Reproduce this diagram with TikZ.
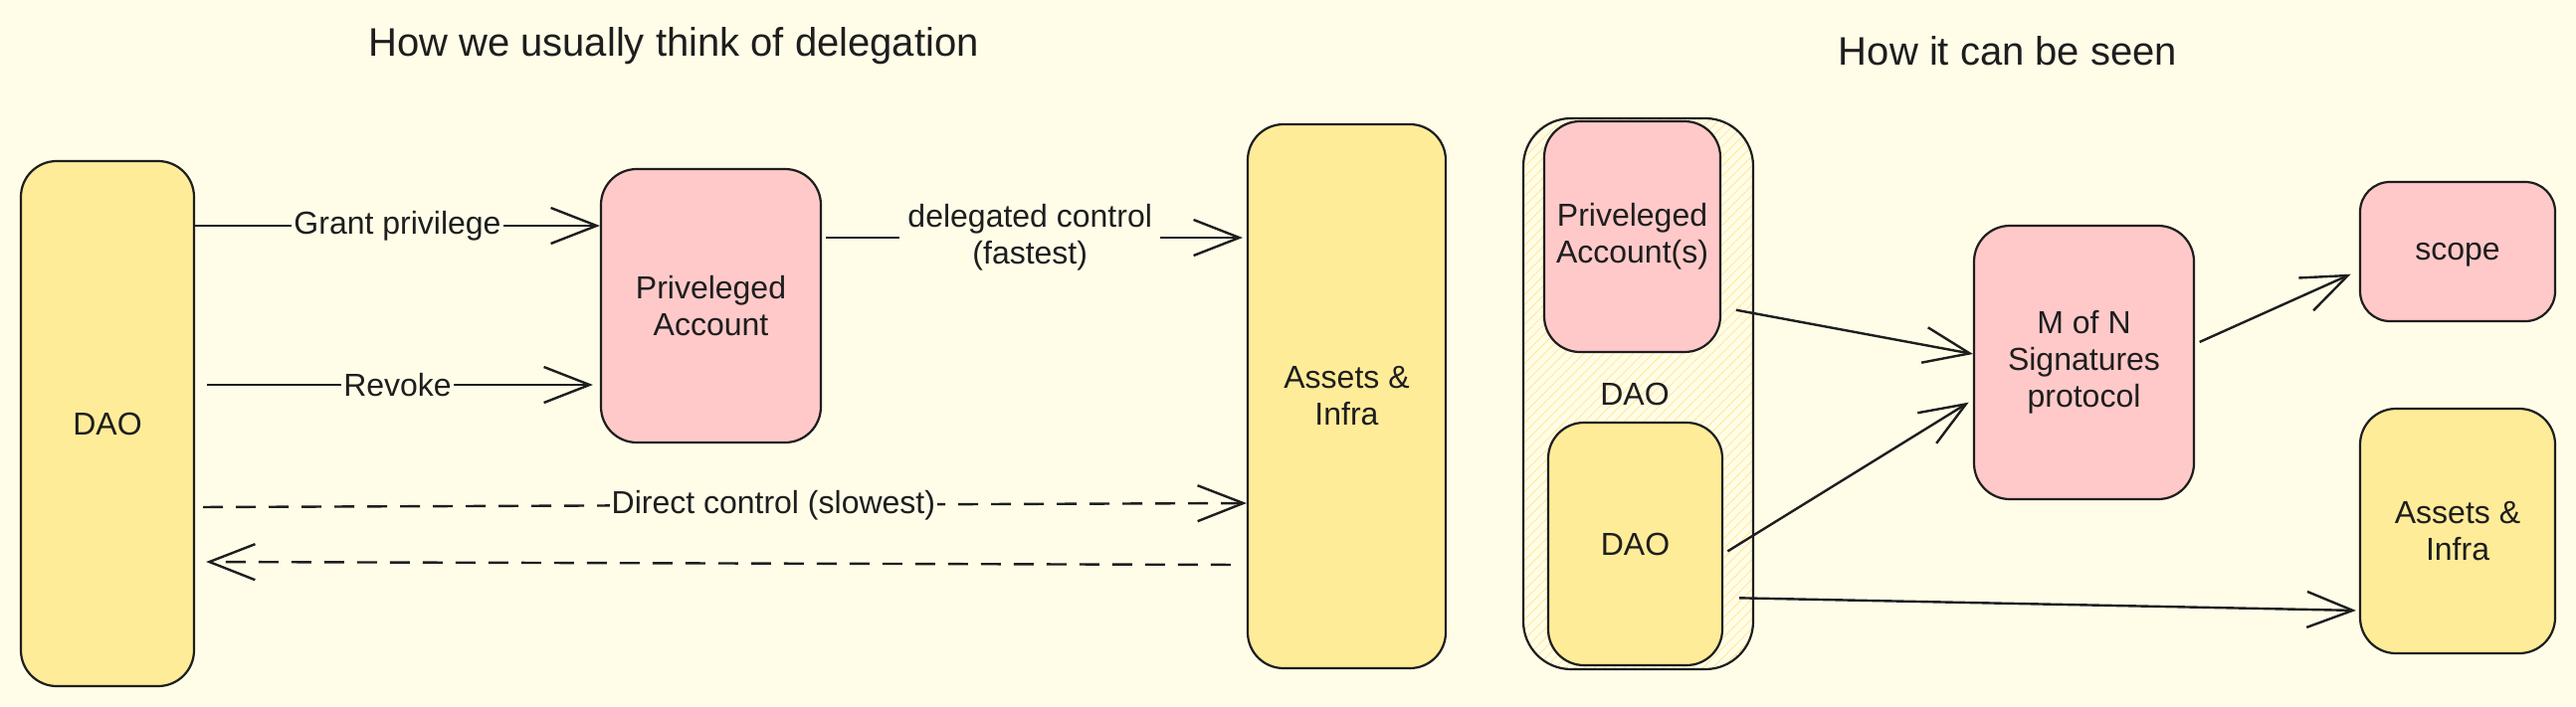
\documentclass[tikz,border=0pt]{standalone}
\usepackage{fontspec}
\setmainfont{Liberation Sans}
\usetikzlibrary{arrows.meta,patterns.meta,calc}
\definecolor{bgc}{HTML}{FFFDE8}
\definecolor{yel}{HTML}{FFEC99}
\definecolor{pnk}{HTML}{FFC9C9}
\definecolor{ink}{HTML}{1E1E1E}
\definecolor{hatchc}{HTML}{FFEBA0}
\newcommand\lblfont{\fontsize{32}{37}\selectfont}
\newcommand\ttlfont{\fontsize{40}{48}\selectfont}
\begin{document}
\begin{tikzpicture}[x=1pt,y=-1pt,
  box/.style={draw=ink, line width=2.2pt, rounded corners=36pt, inner sep=0pt,
    align=center, text=ink, font=\lblfont},
  ybox/.style={box, fill=yel},
  pbox/.style={box, fill=pnk},
  lbl/.style={fill=bgc, inner sep=2pt, text=ink, font=\lblfont, align=center},
  arr/.style={draw=ink, line width=2.4pt,
    -{Straight Barb[length=46pt,width=36pt,line width=2.4pt]}},
  dsh/.style={arr, dash pattern=on 20pt off 13pt},
  ttl/.style={text=ink, font=\ttlfont, anchor=base, inner sep=0pt}]
\fill[bgc] (0,0) rectangle (2589,710);
\useasboundingbox (0,0) rectangle (2589,710);

% titles
\node[ttl] (t1) at (677,56) {How we usually think of delegation};
\node[ttl] (t2) at (2018,65) {How it can be seen};

% left part
\node[ybox, minimum width=174pt, minimum height=528pt] (dao) at (108,426) {DAO};
\node[pbox, minimum width=221pt, minimum height=275pt] (pa) at (714.5,307.5) {Priveleged\\Account};
\node[ybox, minimum width=199pt, minimum height=547pt] (as1) at (1353.5,398.5) {Assets \&\\Infra};

\draw[arr] (dao.east |- 0,227) -- (pa.west |- 0,227)
  node[lbl, pos=0.5] {Grant privilege};
\draw[arr, shorten <=12pt, shorten >=7pt] (dao.east |- 0,387) -- (pa.west |- 0,387)
  node[lbl, pos=0.5] {Revoke};
\draw[arr, shorten <=4pt, shorten >=4pt] (pa.east |- 0,239) -- (as1.west |- 0,239)
  node[lbl, pos=0.49, inner xsep=8pt] {delegated control\\(fastest)};
\draw[dsh, shorten <=8pt] (dao.east |- 0,510) -- (as1.west |- 0,506)
  node[lbl, pos=0.55] {Direct control (slowest)};
\draw[dsh, shorten <=16pt, shorten >=11pt] (as1.west |- 0,568) -- (dao.east |- 0,565);

% right part
\node[box, pattern={Lines[angle=45,distance=7pt,line width=1pt]}, pattern color=hatchc,
  rounded corners=48pt, minimum width=231pt, minimum height=554pt] (outer) at (1646.5,396) {};
\node[pbox, minimum width=177pt, minimum height=232pt] (pa2) at (1640.5,238) {Priveleged\\Account(s)};
\node[ybox, minimum width=175pt, minimum height=244pt] (dao2) at (1643.5,547) {DAO};
\node[text=ink, font=\lblfont, inner sep=0pt] (daol) at (1643,396) {DAO};
\node[pbox, minimum width=221pt, minimum height=275pt] (mofn) at (2094.5,364.5) {M of N\\Signatures\\protocol};
\node[pbox, minimum width=196pt, minimum height=140pt, rounded corners=30pt] (scope) at (2470,253) {\raisebox{-4pt}{\vphantom{Pd}scope}};
\node[ybox, minimum width=196pt, minimum height=246pt] (as2) at (2470,534) {Assets \&\\Infra};

\draw[arr, shorten <=15pt] (pa2.east |- 0,309) -- (mofn.west |- 0,356);
\draw[arr, shorten <=5pt, shorten >=5pt] (dao2.east |- 0,557) -- (mofn.west |- 0,402);
\draw[arr, shorten <=5pt, shorten >=9pt] (mofn.east |- 0,346) -- (scope.west |- 0,272);
\draw[arr, shorten <=16pt, shorten >=3pt] (dao2.east |- 0,601) -- (as2.west |- 0,614);
\end{tikzpicture}
\end{document}
